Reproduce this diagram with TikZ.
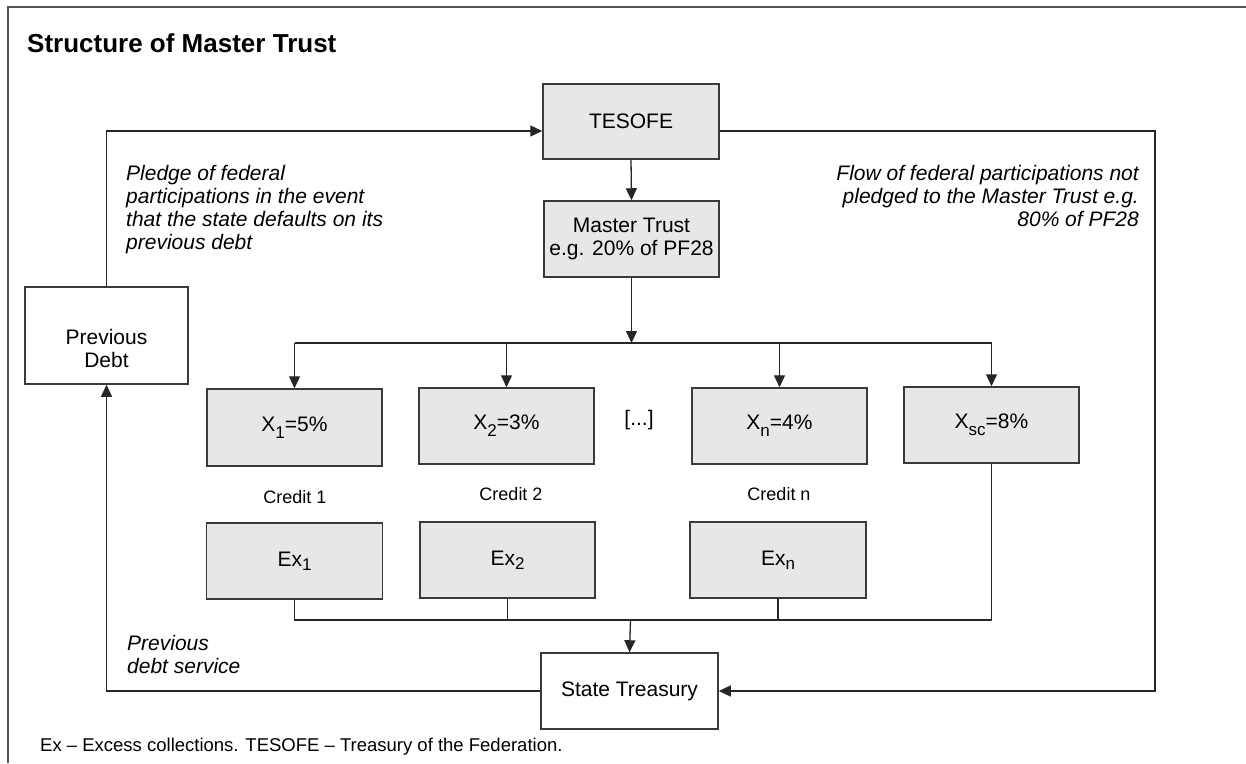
\documentclass[tikz,border=0pt]{standalone}
\usepackage{fontspec}
\setmainfont{Liberation Sans}
\usetikzlibrary{arrows.meta}
\definecolor{boxfill}{HTML}{E6E7E8}
\definecolor{boxline}{HTML}{3A3A3A}
\definecolor{lineclr}{HTML}{262626}
\definecolor{framegray}{HTML}{555555}
\newcommand{\sbx}[1]{\raisebox{-7pt}{\fontsize{17}{17}\selectfont #1}}
\newcommand{\sbe}[1]{\raisebox{-4pt}{\fontsize{17}{17}\selectfont #1}}
\tikzset{
  graybox/.style={draw=boxline, line width=1.5pt, fill=boxfill, minimum width=175pt,
    minimum height=76pt, inner sep=0pt, align=center, font=\fontsize{21}{23}\selectfont},
  whitebox/.style={graybox, fill=white},
  conn/.style={draw=lineclr, line width=1.3pt},
  arr/.style={conn, -{Triangle[length=12pt,width=11pt]}},
  txt/.style={inner sep=0pt, align=left, font=\fontsize{21}{23}\selectfont},
  itxt/.style={inner sep=0pt, font=\fontsize{21}{23}\selectfont\itshape},
  smalltxt/.style={inner sep=0pt, font=\fontsize{18}{20}\selectfont},
}
\begin{document}
\begin{tikzpicture}[x=1pt,y=-1pt]
\useasboundingbox (0,0) rectangle (1246,763);
\fill[white] (0,0) rectangle (1246,763);
% frame
\draw[framegray, line width=2pt] (8,763) -- (8,7) -- (1246,7);
% title
\node[inner sep=0pt, anchor=base west, font=\fontsize{26}{28}\selectfont\bfseries] (title) at (27,52) {Structure of Master Trust};

% boxes
\node[graybox, minimum width=176pt, minimum height=75pt] (TESOFE) at (631,121.5) {TESOFE};
\node[graybox] (Master) at (631.5,239) {Master Trust\\e.g. 20\% of PF28};
\node[graybox, minimum height=77pt] (X1) at (294.5,427.5) {X\sbx{1}=5\%};
\node[graybox] (X2) at (506.5,426) {X\sbx{2}=3\%};
\node[graybox] (Xn) at (779.5,426) {X\sbx{n}=4\%};
\node[graybox] (Xsc) at (991.5,425) {X\sbx{sc}=8\%};
\node[graybox, minimum width=176pt] (Ex1) at (294.5,561) {Ex\sbe{1}};
\node[graybox] (Ex2) at (507.5,560) {Ex\sbe{2}};
\node[graybox, minimum width=176pt] (Exn) at (778,560) {Ex\sbe{n}};
\node[whitebox, minimum width=177pt] (ST) at (629.5,691) {State Treasury};
\node[whitebox, minimum width=163pt, minimum height=97pt] (PD) at (106.5,335.5) {};
\node[txt, align=center, anchor=north] (PDlabel) at (106.5,329) {Previous\\Debt};

% labels
\node[txt] (dots) at (639,420) {[...]};
\node[smalltxt, anchor=base] (c1) at (295,503) {Credit 1};
\node[smalltxt, anchor=base] (c2) at (511,500) {Credit 2};
\node[smalltxt, anchor=base] (cn) at (779,500) {Credit n};
\node[itxt, align=left, anchor=north west] (pledge) at (126,165)
  {Pledge of federal\\participations in the event\\that the state defaults on its\\previous debt};
\node[itxt, align=right, anchor=north east] (flow) at (1139,165)
  {Flow of federal participations not\\pledged to the Master Trust e.g.\\80\% of PF28};
\node[itxt, align=left, anchor=north west] (pds) at (127,635) {Previous\\debt service};
\node[smalltxt, anchor=base west, font=\fontsize{18.5}{20}\selectfont] (foot) at (40,751)
  {Ex -- Excess collections. TESOFE -- Treasury of the Federation.};

% coordinates
\coordinate (split) at (631.5,343);
\coordinate (join) at (630.5,620);
\coordinate (RT) at (1155,131);
\coordinate (RB) at (1155,691);

% connectors
\draw[arr] (TESOFE.south) -- (Master.north);
\draw[arr] (Master.south) -- (split);
\draw[conn] (X1.north |- split) -- (Xsc.north |- split);
\draw[arr] (X1.north |- split) -- (X1.north);
\draw[arr] (X2.north |- split) -- (X2.north);
\draw[arr] (Xn.north |- split) -- (Xn.north);
\draw[arr] (Xsc.north |- split) -- (Xsc.north);
\draw[conn] (Ex1.south) -- (Ex1.south |- join) -- (Xsc.south |- join) -- (Xsc.south);
\draw[conn] (Ex2.south) -- (Ex2.south |- join);
\draw[conn] (Exn.south) -- (Exn.south |- join);
\draw[arr] (join) -- (ST.north);
\draw[arr] (ST.west) -| (PD.south);
\draw[arr] (PD.north) |- ([yshift=-9.5pt]TESOFE.west);
\draw[arr] ([yshift=-9.5pt]TESOFE.east) -- (RT) -- (RB) -- (ST.east);
\end{tikzpicture}
\end{document}
